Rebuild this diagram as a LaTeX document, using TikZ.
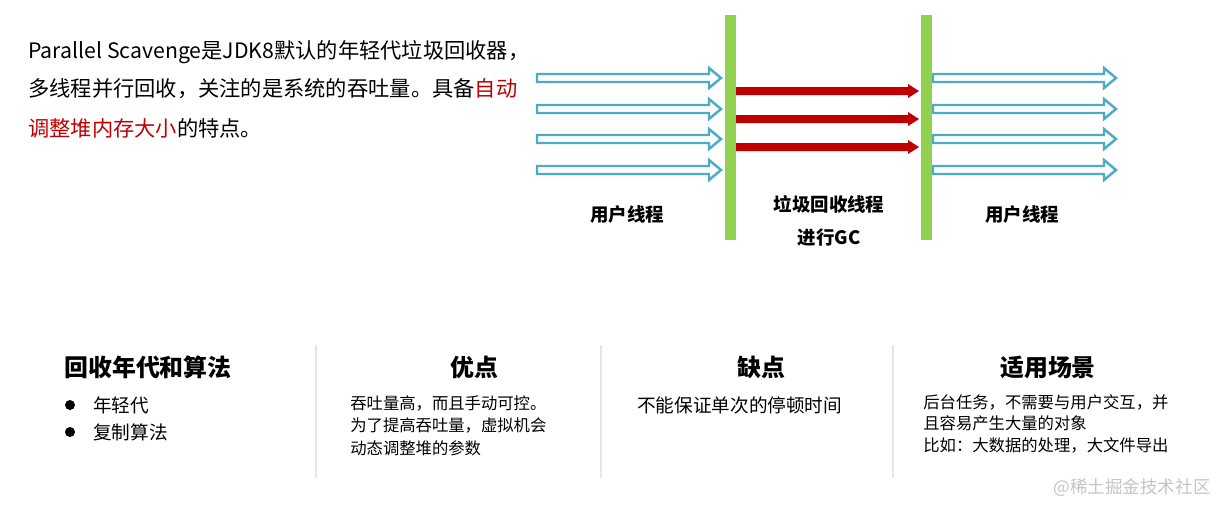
\documentclass[tikz,border=0pt]{standalone}
\usepackage{fontspec}
\setmainfont{Noto Sans CJK SC}
\usepackage{tikz}

\definecolor{barGreen}{HTML}{92D050}
\definecolor{threadBlue}{HTML}{4BACC6}
\definecolor{gcRed}{HTML}{C00000}
\definecolor{sepGray}{HTML}{E6E6E6}
\definecolor{markGray}{HTML}{C4C4C4}

\tikzset{
  line/.style={anchor=west, inner sep=0pt},
  para/.style={line, font=\fontsize{12.1}{14}\selectfont},
  label/.style={inner sep=0pt, font=\fontsize{10.5}{12}\selectfont\bfseries},
  head/.style={inner sep=0pt, font=\fontsize{13.6}{16}\selectfont\bfseries},
  body/.style={line, font=\fontsize{9.3}{11}\selectfont},
  bigbody/.style={line, font=\fontsize{10.6}{12}\selectfont},
  sep/.style={draw=sepGray, line width=0.6pt},
  user/.style={draw=threadBlue, line width=1.4pt, fill=white, line join=miter},
}

\begin{document}
\begin{tikzpicture}[x=0.02cm, y=-0.02cm]
\useasboundingbox (0,0) rectangle (1218,505);

% intro text
\node[para] (p1) at (28,52) {Parallel Scavenge是JDK8默认的年轻代垃圾回收器，};
\node[para] (p2) at (28,89) {多线程并行回收，关注的是系统的吞吐量。具备\textcolor{gcRed}{自动}};
\node[para] (p3) at (28,128) {\textcolor{gcRed}{调整堆内存大小}的特点。};

% user threads (left / right)
\foreach \y in {78,109,139,170} {
  \draw[user] (537,\y-4) -- (709,\y-4) -- (709,\y-10) -- (721,\y)
    -- (709,\y+10) -- (709,\y+4) -- (537,\y+4) -- cycle;
  \draw[user] (933,\y-4) -- (1104,\y-4) -- (1104,\y-10) -- (1116,\y)
    -- (1104,\y+10) -- (1104,\y+4) -- (933,\y+4) -- cycle;
}

% gc threads
\foreach \y in {91,119,147} {
  \fill[gcRed] (736,\y-4) -- (908,\y-4) -- (908,\y-7) -- (919,\y)
    -- (908,\y+7) -- (908,\y+4) -- (736,\y+4) -- cycle;
}

% pause bars
\fill[barGreen] (725,15) rectangle (736,240);
\fill[barGreen] (921,15) rectangle (932,240);

\node[label] (uLeft) at (627,215) {用户线程};
\node[label] (gcA) at (829,204) {垃圾回收线程};
\node[label] (gcB) at (829,238) {进行GC};
\node[label] (uRight) at (1022,215) {用户线程};

% table
\draw[sep] (316,345) -- (316,478);
\draw[sep] (601,345) -- (601,478);
\draw[sep] (893,345) -- (893,478);

\node[head, anchor=west] (hGen) at (64,367) {回收年代和算法};
\node[head] (hPro) at (474,367) {优点};
\node[head] (hCon) at (761,367) {缺点};
\node[head] (hUse) at (1048,367) {适用场景};

\fill (70,405) circle (5);
\fill (70,432) circle (5);
\node[bigbody] (g1) at (93,405) {年轻代};
\node[bigbody] (g2) at (93,432) {复制算法};

\node[body] (pr1) at (350,403) {吞吐量高，而且手动可控。};
\node[body] (pr2) at (350,425) {为了提高吞吐量，虚拟机会};
\node[body] (pr3) at (350,448) {动态调整堆的参数};

\node[bigbody] (co1) at (637,405) {不能保证单次的停顿时间};

\node[body] (us1) at (923,402) {后台任务，不需要与用户交互，并};
\node[body] (us2) at (923,423) {且容易产生大量的对象};
\node[body] (us3) at (923,445) {比如：大数据的处理，大文件导出};

\node[line, anchor=east, text=markGray, font=\fontsize{10}{12}\selectfont] (mark) at (1211,488) {@稀土掘金技术社区};

\end{tikzpicture}
\end{document}
